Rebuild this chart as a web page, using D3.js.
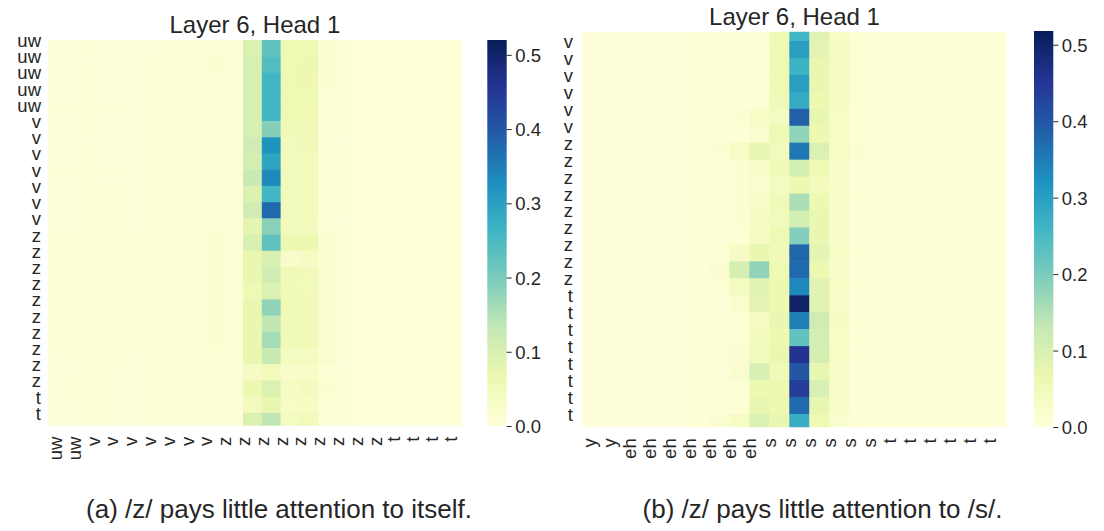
<!DOCTYPE html>
<html><head><meta charset="utf-8">
<script src="https://cdn.jsdelivr.net/npm/d3@7"></script>
<style>
body{margin:0;background:#fff}
svg{display:block}
text{font-family:"Liberation Sans",Arial,Helvetica,sans-serif;fill:#262626}
</style>
</head><body>
<svg id="c" width="1104" height="531"></svg>
<script>
// ---------------- data ----------------
const leftXLabels = ["uw","uw","v","v","v","v","v","v","v","z","z","z","z","z","z","z","z","z","t","t","t","t"];
const leftYLabels = ["uw","uw","uw","uw","uw","v","v","v","v","v","v","v","z","z","z","z","z","z","z","z","z","z","t","t"];
const rightXLabels = ["y","y","eh","eh","eh","eh","eh","eh","eh","s","s","s","s","s","s","t","t","t","t","t","t"];
const rightYLabels = ["v","v","v","v","v","v","z","z","z","z","z","z","z","z","z","t","t","t","t","t","t","t","t"];
const colorTicks = [0, 0.1, 0.2, 0.3, 0.4, 0.5];
const colorMax = [0.52, 0.518];
const titles = ["Layer 6, Head 1", "Layer 6, Head 1"];
const captions = ["(a) /z/ pays little attention to itself.", "(b) /z/ pays little attention to /s/."];

// left panel: 24 rows x 23 cells (cells start one step before the first x label)
const leftValues = [
[.002,.002,.002,.002,.002,.002,.002,.004,.005,.008,.006,.095,.225,.060,.060,.012,.002,.001,.001,.001,.001,.001,.001],
[.002,.002,.002,.002,.002,.002,.004,.005,.006,.015,.006,.105,.240,.060,.065,.014,.002,.001,.001,.001,.001,.001,.001],
[.002,.002,.002,.002,.002,.002,.004,.004,.005,.008,.006,.105,.260,.060,.062,.012,.002,.001,.001,.001,.001,.001,.001],
[.002,.002,.002,.002,.002,.002,.004,.004,.005,.008,.006,.105,.260,.060,.060,.010,.002,.001,.001,.001,.001,.001,.001],
[.002,.002,.002,.002,.002,.002,.004,.004,.005,.008,.006,.105,.260,.060,.058,.008,.002,.001,.001,.001,.001,.001,.001],
[.002,.002,.002,.002,.002,.002,.004,.004,.005,.008,.006,.105,.190,.055,.055,.008,.002,.001,.001,.001,.001,.001,.001],
[.002,.002,.002,.002,.002,.002,.004,.004,.005,.008,.006,.115,.320,.050,.052,.008,.002,.001,.001,.001,.001,.001,.001],
[.002,.002,.002,.002,.002,.002,.004,.004,.005,.008,.006,.110,.290,.050,.050,.008,.002,.001,.001,.001,.001,.001,.001],
[.002,.002,.002,.002,.002,.002,.004,.004,.005,.008,.006,.125,.335,.050,.050,.008,.002,.001,.001,.001,.001,.001,.001],
[.002,.002,.002,.006,.004,.002,.004,.004,.005,.008,.006,.095,.260,.050,.050,.008,.002,.001,.001,.001,.001,.001,.001],
[.002,.002,.002,.006,.004,.002,.004,.004,.005,.008,.006,.115,.375,.050,.050,.008,.002,.001,.001,.001,.001,.001,.001],
[.002,.002,.002,.005,.004,.002,.004,.004,.005,.008,.006,.080,.185,.048,.045,.008,.002,.001,.001,.001,.001,.001,.001],
[.002,.004,.004,.005,.004,.004,.004,.005,.006,.015,.006,.100,.225,.065,.065,.015,.002,.001,.001,.001,.001,.001,.001],
[.002,.004,.005,.005,.004,.004,.004,.005,.006,.012,.006,.070,.100,.025,.035,.015,.002,.001,.001,.001,.001,.001,.001],
[.002,.004,.005,.008,.005,.004,.004,.005,.006,.015,.006,.070,.115,.055,.050,.020,.002,.001,.001,.001,.001,.001,.001],
[.002,.004,.005,.006,.005,.005,.004,.005,.006,.012,.006,.060,.095,.055,.050,.020,.002,.001,.001,.001,.001,.001,.001],
[.002,.004,.005,.008,.005,.008,.004,.005,.006,.015,.006,.070,.180,.060,.055,.020,.002,.001,.001,.001,.001,.001,.001],
[.002,.004,.005,.006,.005,.005,.004,.005,.006,.012,.006,.070,.135,.055,.055,.020,.002,.001,.001,.001,.001,.001,.001],
[.002,.004,.004,.005,.004,.004,.004,.005,.006,.012,.006,.070,.160,.055,.055,.020,.002,.001,.001,.001,.001,.001,.001],
[.002,.002,.004,.004,.004,.002,.004,.004,.005,.008,.006,.070,.125,.040,.040,.015,.002,.001,.001,.001,.001,.001,.001],
[.002,.002,.002,.004,.002,.002,.004,.004,.005,.008,.006,.035,.050,.025,.030,.010,.002,.001,.001,.001,.001,.001,.001],
[.002,.002,.004,.004,.002,.002,.004,.004,.005,.008,.006,.065,.095,.035,.045,.012,.002,.001,.001,.001,.001,.001,.001],
[.002,.002,.002,.004,.002,.002,.004,.004,.005,.008,.006,.045,.070,.030,.035,.008,.002,.001,.001,.001,.001,.001,.001],
[.002,.002,.002,.004,.002,.002,.004,.004,.005,.008,.006,.095,.135,.040,.050,.008,.002,.001,.001,.001,.001,.001,.001]
];

// right panel: 24 rows x 22 cells (cells start one step before the first x / y labels)
const rightValues = [
[.002,.002,.002,.002,.002,.002,.003,.004,.005,.010,.060,.258,.085,.030,.010,.004,.004,.003,.003,.003,.003,.003],
[.002,.002,.002,.002,.002,.002,.003,.004,.005,.008,.060,.300,.080,.035,.010,.004,.004,.003,.003,.003,.003,.003],
[.002,.002,.002,.002,.002,.002,.003,.004,.005,.008,.060,.265,.070,.035,.010,.004,.004,.003,.003,.003,.003,.003],
[.002,.002,.002,.002,.002,.002,.003,.004,.005,.008,.060,.300,.070,.035,.010,.004,.004,.003,.003,.003,.003,.003],
[.002,.002,.002,.002,.002,.002,.003,.004,.005,.010,.055,.280,.065,.035,.010,.004,.004,.003,.003,.003,.003,.003],
[.002,.002,.002,.002,.002,.002,.003,.006,.012,.030,.040,.385,.075,.030,.010,.004,.004,.003,.003,.003,.003,.003],
[.002,.002,.002,.002,.002,.002,.003,.005,.008,.020,.060,.180,.065,.030,.010,.004,.004,.003,.003,.003,.003,.003],
[.002,.002,.002,.002,.002,.002,.005,.012,.030,.075,.050,.355,.095,.030,.012,.005,.004,.003,.003,.003,.003,.003],
[.002,.002,.002,.002,.002,.002,.004,.006,.012,.025,.055,.110,.060,.025,.010,.006,.005,.005,.005,.005,.004,.003],
[.002,.002,.002,.002,.002,.002,.004,.006,.012,.020,.040,.065,.045,.025,.010,.006,.006,.005,.005,.006,.005,.004],
[.002,.002,.002,.002,.002,.002,.004,.006,.012,.025,.055,.155,.065,.025,.010,.006,.005,.005,.005,.005,.005,.004],
[.002,.002,.002,.002,.002,.002,.005,.006,.012,.035,.050,.110,.070,.025,.010,.005,.004,.004,.004,.004,.004,.003],
[.002,.002,.002,.002,.002,.002,.005,.006,.008,.035,.060,.190,.070,.025,.010,.005,.004,.004,.004,.004,.004,.003],
[.002,.002,.002,.002,.002,.002,.005,.008,.035,.070,.055,.380,.080,.030,.010,.005,.004,.004,.004,.004,.004,.003],
[.002,.002,.002,.002,.002,.002,.005,.015,.105,.180,.060,.375,.065,.025,.010,.005,.004,.004,.004,.004,.004,.003],
[.002,.002,.002,.002,.002,.002,.005,.010,.040,.085,.065,.335,.085,.030,.010,.005,.004,.004,.004,.004,.004,.003],
[.002,.002,.002,.002,.002,.002,.004,.006,.020,.080,.065,.500,.085,.025,.008,.004,.004,.003,.003,.003,.003,.003],
[.002,.002,.002,.002,.002,.002,.004,.005,.008,.035,.070,.345,.115,.035,.008,.004,.004,.003,.003,.003,.003,.003],
[.002,.002,.002,.002,.002,.002,.004,.005,.010,.045,.065,.225,.110,.030,.008,.004,.004,.003,.003,.003,.003,.003],
[.002,.002,.002,.002,.002,.002,.004,.006,.015,.050,.070,.460,.105,.030,.008,.004,.004,.003,.003,.003,.003,.003],
[.002,.002,.002,.002,.002,.002,.004,.006,.020,.100,.055,.400,.075,.025,.008,.004,.004,.003,.003,.003,.003,.003],
[.002,.002,.002,.002,.002,.002,.004,.005,.010,.065,.065,.440,.100,.025,.008,.004,.004,.003,.003,.003,.003,.003],
[.002,.002,.002,.002,.002,.002,.004,.006,.010,.075,.065,.375,.075,.025,.008,.004,.004,.003,.003,.003,.003,.003],
[.002,.002,.002,.002,.002,.002,.004,.015,.030,.095,.070,.275,.060,.020,.008,.004,.004,.003,.003,.003,.003,.003]
];

// ---------------- drawing ----------------
const palette = ["#ffffd9","#edf8b1","#c7e9b4","#7fcdbb","#41b6c4","#1d91c0","#225ea8","#253494","#081d58"];
const svg = d3.select("#c");
const defs = svg.append("defs");
const tickFont = "18.5px";

function panel(o) {
  const x = d3.scaleLinear().domain(o.xDom).range([o.x0, o.x1]);
  const y = d3.scaleLinear().domain(o.yDom).range([o.y0, o.y1]);
  const color = d3.scaleLinear()
    .domain(palette.map((c, i) => i / (palette.length - 1) * o.vmax))
    .range(palette).clamp(true);

  const clipId = "clip" + o.id;
  defs.append("clipPath").attr("id", clipId).append("rect")
    .attr("x", o.x0).attr("y", o.y0).attr("width", o.x1 - o.x0).attr("height", o.y1 - o.y0);

  const cells = [];
  o.values.forEach((row, ri) => row.forEach((v, ci) => cells.push({ r: ri + o.firstRow, c: ci + o.firstCol, v })));
  svg.append("g").attr("clip-path", `url(#${clipId})`)
    .selectAll("rect").data(cells).join("rect")
    .attr("x", d => x(d.c)).attr("y", d => y(d.r))
    .attr("width", d => x(d.c + 1) - x(d.c) + 0.5)
    .attr("height", d => y(d.r + 1) - y(d.r) + 0.5)
    .attr("fill", d => color(d.v));

  // x axis
  const gx = svg.append("g").attr("transform", `translate(0,${o.y1})`)
    .call(d3.axisBottom(x).tickValues(d3.range(o.xLabels.length))
      .tickFormat(i => o.xLabels[i]).tickSize(0).tickSizeOuter(0));
  gx.select(".domain").remove();
  gx.selectAll("text")
    .attr("transform", "rotate(-90)")
    .attr("x", -o.xPad).attr("y", 0).attr("dy", "0.35em")
    .style("text-anchor", "end")
    .style("font-size", tickFont);

  // y axis
  const gy = svg.append("g").attr("transform", `translate(${o.x0},0)`)
    .call(d3.axisLeft(y).tickValues(d3.range(o.yLabels.length))
      .tickFormat(i => o.yLabels[i]).tickSize(0).tickPadding(o.yPad).tickSizeOuter(0));
  gy.select(".domain").remove();
  gy.selectAll("text").attr("dy", "0.35em").style("font-size", tickFont);

  // colorbar
  const cy = d3.scaleLinear().domain([0, o.vmax]).range([o.y1cb, o.y0cb]);
  const gradId = "grad" + o.id;
  const grad = defs.append("linearGradient").attr("id", gradId)
    .attr("x1", 0).attr("y1", 1).attr("x2", 0).attr("y2", 0);
  palette.forEach((c, i) => grad.append("stop")
    .attr("offset", i / (palette.length - 1)).attr("stop-color", c));
  svg.append("rect").attr("x", o.cbx).attr("y", o.y0cb)
    .attr("width", o.cbw).attr("height", o.y1cb - o.y0cb)
    .attr("fill", `url(#${gradId})`);
  const gc = svg.append("g").attr("transform", `translate(${o.cbx + o.cbw},0)`)
    .call(d3.axisRight(cy).tickValues(colorTicks).tickFormat(d3.format(".1f"))
      .tickSize(5).tickPadding(3.5).tickSizeOuter(0));
  gc.select(".domain").remove();
  gc.selectAll("line").attr("stroke", "#262626");
  gc.selectAll("text").attr("dy", "0.35em").style("font-size", tickFont);

  // title and caption
  svg.append("text").attr("x", (o.x0 + o.x1) / 2).attr("y", o.titleY)
    .attr("text-anchor", "middle").style("font-size", "24px").text(o.title);
  svg.append("text").attr("x", o.capX).attr("y", 518)
    .attr("text-anchor", "middle").style("font-size", "26px").text(o.caption);
}

panel({
  id: "L", values: leftValues, firstRow: 0, firstCol: -1,
  xLabels: leftXLabels, yLabels: leftYLabels,
  xDom: [-0.372, 21.63], yDom: [0, 23.79],
  x0: 48, x1: 461.7, y0: 40, y1: 425.7, xPad: 11, yPad: 7,
  vmax: colorMax[0], cbx: 487.3, cbw: 19.4, y0cb: 40, y1cb: 426,
  title: titles[0], titleY: 33, caption: captions[0], capX: 279
});
panel({
  id: "R", values: rightValues, firstRow: -1, firstCol: -1,
  xLabels: rightXLabels, yLabels: rightYLabels,
  xDom: [-0.365, 20.885], yDom: [-0.549, 22.79],
  x0: 582, x1: 1007, y0: 31.7, y1: 427.3, xPad: 11, yPad: 9,
  vmax: colorMax[1], cbx: 1034, cbw: 19.3, y0cb: 31, y1cb: 427,
  title: titles[1], titleY: 25, caption: captions[1], capX: 822.5
});
</script>
</body></html>
